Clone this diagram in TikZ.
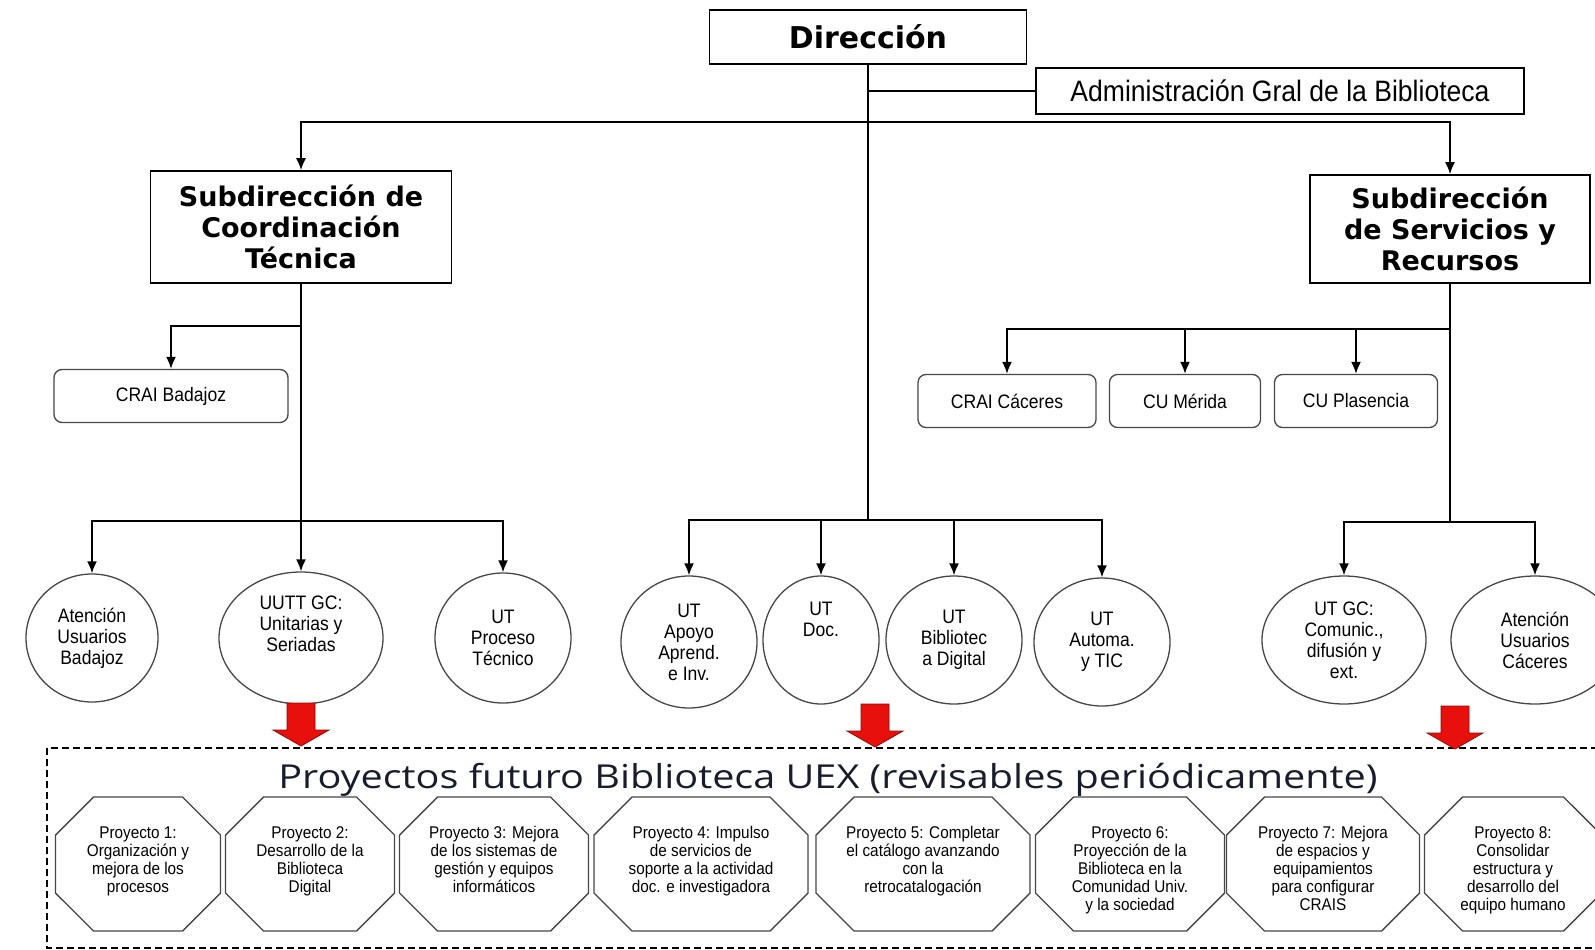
\documentclass[tikz,border=0pt]{standalone}
\usepackage{fontspec}
\setmainfont{Liberation Sans}
\newfontfamily\headfont{DejaVu Sans}
\newfontfamily\titlefont{Open Sans}[FakeStretch=1.2]
\newfontfamily\narrowfont{Liberation Sans}[FakeStretch=0.9]
\usepackage{tikz}
\usetikzlibrary{shapes.geometric, shapes.misc, arrows.meta}
\definecolor{rojo}{RGB}{232,16,12}
\definecolor{rojoborde}{RGB}{140,10,10}
\definecolor{gris}{RGB}{70,70,70}
\definecolor{tinta}{RGB}{25,28,45}
\newcommand{\proy}[1]{\makebox[0pt]{\begin{tabular}[t]{@{}c@{}}#1\end{tabular}}}
\tikzstyle{jefe} = [rectangle, 
draw=black, 
line width=1.6pt, 
align=center, 
inner sep=0pt]
\tikzstyle{sede} = [rectangle, rounded corners=8pt, 
draw=gris, 
line width=1.3pt, 
inner sep=0pt, 
minimum height=53pt, 
font=\narrowfont\fontsize{19.5}{22}\selectfont]
\tikzstyle{unidad} = [ellipse, 
draw=gris, 
line width=1.3pt, 
inner sep=0pt, 
align=center, 
font=\narrowfont\fontsize{19.5}{21}\selectfont]
\tikzstyle{proyecto} = [chamfered rectangle, 
chamfered rectangle xsep=40pt, 
chamfered rectangle ysep=40pt, 
draw=gris, 
line width=1.4pt, 
inner sep=0pt, 
minimum height=134pt, 
text height=12pt, 
text depth=64pt, 
font=\narrowfont\fontsize{17}{18}\selectfont]
\tikzstyle{linea} = [line width=1.8pt]
\tikzstyle{arrow} = [line width=1.8pt,->,>={Latex[length=12pt,width=10pt]}]
\tikzstyle{bloque} = [fill=rojo, draw=rojoborde, line width=0.8pt]
\tikzstyle{marco} = [dash pattern=on 7pt off 4pt, line width=1.4pt]

\begin{document}
\begin{tikzpicture}[x=1pt, y=-1pt]
        \useasboundingbox (0,0) rectangle (1595,950);

        \node (dir) [jefe, minimum width=317pt, minimum height=54pt, font=\headfont\bfseries\fontsize{30}{34}\selectfont] at (868,37) {Dirección};
        \node (adm) [jefe, minimum width=488pt, minimum height=46pt, font=\narrowfont\fontsize{29.5}{32}\selectfont] at (1280,91) {Administración Gral de la Biblioteca};
        \node (subL) [jefe, minimum width=301pt, minimum height=112pt, font=\headfont\bfseries\fontsize{27}{31}\selectfont] at (301,227) {Subdirección de\\Coordinación\\Técnica};
        \node (subR) [jefe, minimum width=280pt, minimum height=108pt, font=\headfont\bfseries\fontsize{27}{31}\selectfont] at (1450,229) {Subdirección\\de Servicios y\\Recursos};

        \node (crB) [sede, minimum width=234pt] at (171,396) {CRAI Badajoz};
        \node (crC) [sede, minimum width=178pt] at (1007,401) {CRAI Cáceres};
        \node (crM) [sede, minimum width=151pt] at (1185,401) {CU Mérida};
        \node (crP) [sede, minimum width=163pt] at (1356,401) {CU Plasencia};

        \node (atB) [unidad, minimum width=132pt, minimum height=128pt] at (92,638) {Atención\\Usuarios\\Badajoz};
        \node (uutt) [unidad, minimum width=164pt, minimum height=132pt] at (301,638) {UUTT GC:\\Unitarias y\\Seriadas\\[8pt]};
        \node (utP) [unidad, minimum width=136pt, minimum height=130pt] at (503,638) {UT\\Proceso\\Técnico};
        \node (apoyo) [unidad, minimum width=136pt, minimum height=132pt] at (689,642) {UT\\Apoyo\\Aprend.\\e Inv.};
        \node (doc) [unidad, minimum width=116pt, minimum height=128pt] at (821,640) {UT\\Doc.\\[20pt]};
        \node (bibD) [unidad, minimum width=136pt, minimum height=128pt] at (954,640) {UT\\Bibliotec\\a Digital};
        \node (auto) [unidad, minimum width=136pt, minimum height=128pt] at (1102,642) {UT\\Automa.\\y TIC};
        \node (gcC) [unidad, minimum width=164pt, minimum height=128pt] at (1344,640) {UT GC:\\Comunic.,\\difusión y\\ext.};
        \node (atC) [unidad, minimum width=168pt, minimum height=128pt] at (1535,640) {Atención\\Usuarios\\Cáceres};

        % conectores
        \coordinate (jtop) at (868,122);
        \coordinate (jM) at (868,520);
        \coordinate (kL) at (301,326);
        \coordinate (jL) at (301,521);
        \coordinate (kR) at (1450,329);
        \coordinate (jR) at (1450,522);

        \draw [linea] (dir) -- (jM);
        \draw [linea] (dir.south |- adm.west) -- (adm.west);
        \draw [arrow] (jtop) -| (subL.north);
        \draw [arrow] (jtop) -| (subR.north);

        \draw [linea] (subL) -- (jL);
        \draw [arrow] (kL) -| (crB.north);
        \draw [arrow] (jL) -| (atB.north);
        \draw [arrow] (jL) -- (uutt.north);
        \draw [arrow] (jL) -| (utP.north);

        \draw [arrow] (jM) -| (apoyo.north);
        \draw [arrow] (jM) -| (doc.north);
        \draw [arrow] (jM) -| (bibD.north);
        \draw [arrow] (jM) -| (auto.north);

        \draw [linea] (subR) -- (jR);
        \draw [arrow] (kR) -| (crC.north);
        \draw [arrow] (kR) -| (crM.north);
        \draw [arrow] (kR) -| (crP.north);
        \draw [arrow] (jR) -| (gcC.north);
        \draw [arrow] (jR) -| (atC.north);

        % proyectos
        \draw [marco] (47,748) rectangle (1640,948);
        \foreach \x/\y in {301/703, 875/704, 1455/706}
          \filldraw [bloque] (\x-14,\y) -- (\x+14,\y) -- (\x+14,\y+27) -- (\x+28,\y+27) -- (\x,\y+43) -- (\x-28,\y+27) -- (\x-14,\y+27) -- cycle;

        \node (titulo) [anchor=base, text=tinta, font=\titlefont\fontsize{33}{38}\selectfont] at (828,788) {Proyectos futuro Biblioteca UEX (revisables periódicamente)};

        \node (p1) [proyecto, minimum width=165pt] at (138,864) {\proy{Proyecto 1:\\Organización y\\mejora de los\\procesos}};
        \node (p2) [proyecto, minimum width=169pt] at (310,864) {\proy{Proyecto 2:\\Desarrollo de la\\Biblioteca\\Digital}};
        \node (p3) [proyecto, minimum width=189pt] at (494,864) {\proy{Proyecto 3: Mejora\\de los sistemas de\\gestión y equipos\\informáticos}};
        \node (p4) [proyecto, minimum width=214pt] at (701,864) {\proy{Proyecto 4: Impulso\\de servicios de\\soporte a la actividad\\doc. e investigadora}};
        \node (p5) [proyecto, minimum width=214pt] at (923,864) {\proy{Proyecto 5: Completar\\el catálogo avanzando\\con la\\retrocatalogación}};
        \node (p6) [proyecto, minimum width=189pt] at (1130,864) {\proy{Proyecto 6:\\Proyección de la\\Biblioteca en la\\Comunidad Univ.\\y la sociedad}};
        \node (p7) [proyecto, minimum width=193pt] at (1323,864) {\proy{Proyecto 7: Mejora\\de espacios y\\equipamientos\\para configurar\\CRAIS}};
        \node (p8) [proyecto, minimum width=177pt] at (1513,864) {\proy{Proyecto 8:\\Consolidar\\estructura y\\desarrollo del\\equipo humano}};

\end{tikzpicture}
\end{document}
